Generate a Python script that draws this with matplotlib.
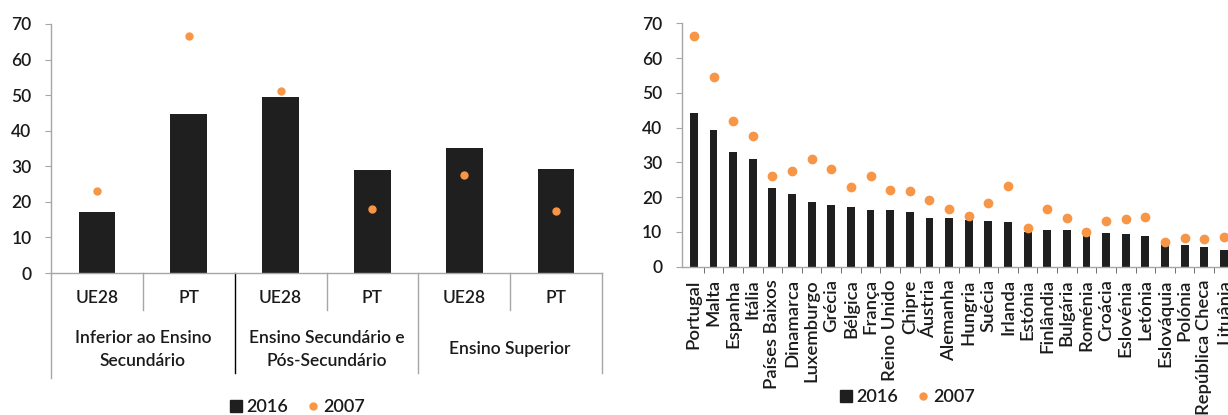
import numpy as np
import matplotlib.pyplot as plt
import matplotlib.transforms as mtransforms
from matplotlib.lines import Line2D

plt.rcParams['font.family'] = ['Lato', 'DejaVu Sans']
plt.rcParams['font.weight'] = 'semibold'

BAR = '#1f1f1f'
ORANGE = '#f79646'
GREY = '#a6a6a6'
TEXT = '#1a1a1a'

# left panel: by education level
levels = ['Inferior ao Ensino\nSecundário', 'Ensino Secundário e\nPós-Secundário', 'Ensino Superior']
regions = ['UE28', 'PT', 'UE28', 'PT', 'UE28', 'PT']
lvl_2016 = [17.2, 44.7, 49.6, 29.0, 35.2, 29.2]
lvl_2007 = [23.1, 66.7, 51.3, 18.0, 27.6, 17.3]

# right panel: by country
countries = ['Portugal', 'Malta', 'Espanha', 'Itália', 'Países Baixos', 'Dinamarca',
             'Luxemburgo', 'Grécia', 'Bélgica', 'França', 'Reino Unido', 'Chipre',
             'Áustria', 'Alemanha', 'Hungria', 'Suécia', 'Irlanda', 'Estónia',
             'Finlândia', 'Bulgária', 'Roménia', 'Croácia', 'Eslovénia', 'Letónia',
             'Eslováquia', 'Polónia', 'República Checa', 'Lituânia']
ctry_2016 = [44.3, 39.3, 33.0, 30.9, 22.5, 20.8, 18.7, 17.7, 17.1, 16.4, 16.4, 15.6,
             13.9, 13.9, 13.4, 13.1, 12.8, 10.1, 10.6, 10.6, 8.8, 9.8, 9.3, 8.7,
             7.2, 6.2, 5.8, 4.8]
ctry_2007 = [66.4, 54.6, 41.9, 37.5, 26.2, 27.5, 31.1, 28.0, 23.0, 26.1, 22.0, 21.8,
             19.3, 16.5, 14.6, 18.4, 23.3, 11.1, 16.7, 14.1, 10.1, 13.2, 13.6, 14.3,
             7.0, 8.2, 8.0, 8.4]

W, H = 1228, 415
fig = plt.figure(figsize=(W / 100, H / 100), dpi=100)


def style_axis(ax):
    for s in ['top', 'right']:
        ax.spines[s].set_visible(False)
    for s in ['left', 'bottom']:
        ax.spines[s].set_color(GREY)
        ax.spines[s].set_linewidth(1.0)
    ax.set_ylim(0, 70)
    ax.set_yticks(range(0, 71, 10))
    ax.tick_params(axis='y', length=4, color=GREY, pad=10, labelsize=12.5, labelcolor=TEXT)


def add_legend(x_px, y_px):
    handles = [Line2D([], [], marker='s', color=BAR, linestyle='none', markersize=8.5),
               Line2D([], [], marker='o', color=ORANGE, linestyle='none', markersize=5)]
    fig.legend(handles, ['2016', '2007'], loc='center', ncol=2, frameon=False,
               bbox_to_anchor=(x_px / W, 1 - y_px / H), fontsize=13,
               handlelength=0.8, handletextpad=0.15, columnspacing=1.0, labelcolor=TEXT)


# ---- left chart ----
ax1 = fig.add_axes([51 / W, 1 - 273 / H, 551 / W, 249 / H])
x1 = np.arange(len(regions))
ax1.bar(x1, lvl_2016, width=0.4, color=BAR, zorder=2)
ax1.plot(x1, lvl_2007, 'o', color=ORANGE, markersize=5, zorder=3)
style_axis(ax1)
ax1.set_xlim(-0.5, 5.5)
ax1.set_xticks([])

tr = mtransforms.blended_transform_factory(ax1.transData, ax1.transAxes)
for i, r in enumerate(regions):
    ax1.text(i, -0.10, r, transform=tr, ha='center', va='center', fontsize=12.5, color=TEXT)
for g, name in enumerate(levels):
    ax1.text(2 * g + 0.5, -0.307, name, transform=tr, ha='center', va='center',
             fontsize=12.5, color=TEXT, linespacing=1.5)

# table-like separators under the axis
for xs, depth, col in [(-0.5, 0.42, GREY), (0.5, 0.15, GREY), (1.5, 0.40, 'black'),
                       (2.5, 0.15, GREY), (3.5, 0.40, GREY), (4.5, 0.15, GREY),
                       (5.5, 0.40, GREY)]:
    ax1.plot([xs, xs], [0, -depth], transform=tr, color=col, lw=1.0, clip_on=False)

add_legend(297, 407)

# ---- right chart ----
ax2 = fig.add_axes([681.7 / W, 1 - 266.7 / H, 552 / W, 243.4 / H])
x2 = np.arange(len(countries))
ax2.bar(x2, ctry_2016, width=0.4, color=BAR, zorder=2)
ax2.plot(x2, ctry_2007, 'o', color=ORANGE, markersize=6, zorder=3)
style_axis(ax2)
ax2.set_xlim(-0.62, 27.5)
ax2.set_xticks(x2)
ax2.set_xticklabels(countries, rotation=90, fontsize=13.3, color=TEXT)
ax2.set_xticks(x2[:-1] + 0.5, minor=True)
ax2.tick_params(axis='x', which='major', length=0, pad=9)
ax2.tick_params(axis='x', which='minor', length=4, color='#555555')

add_legend(907, 397)

fig.savefig('out.png', dpi=100)
